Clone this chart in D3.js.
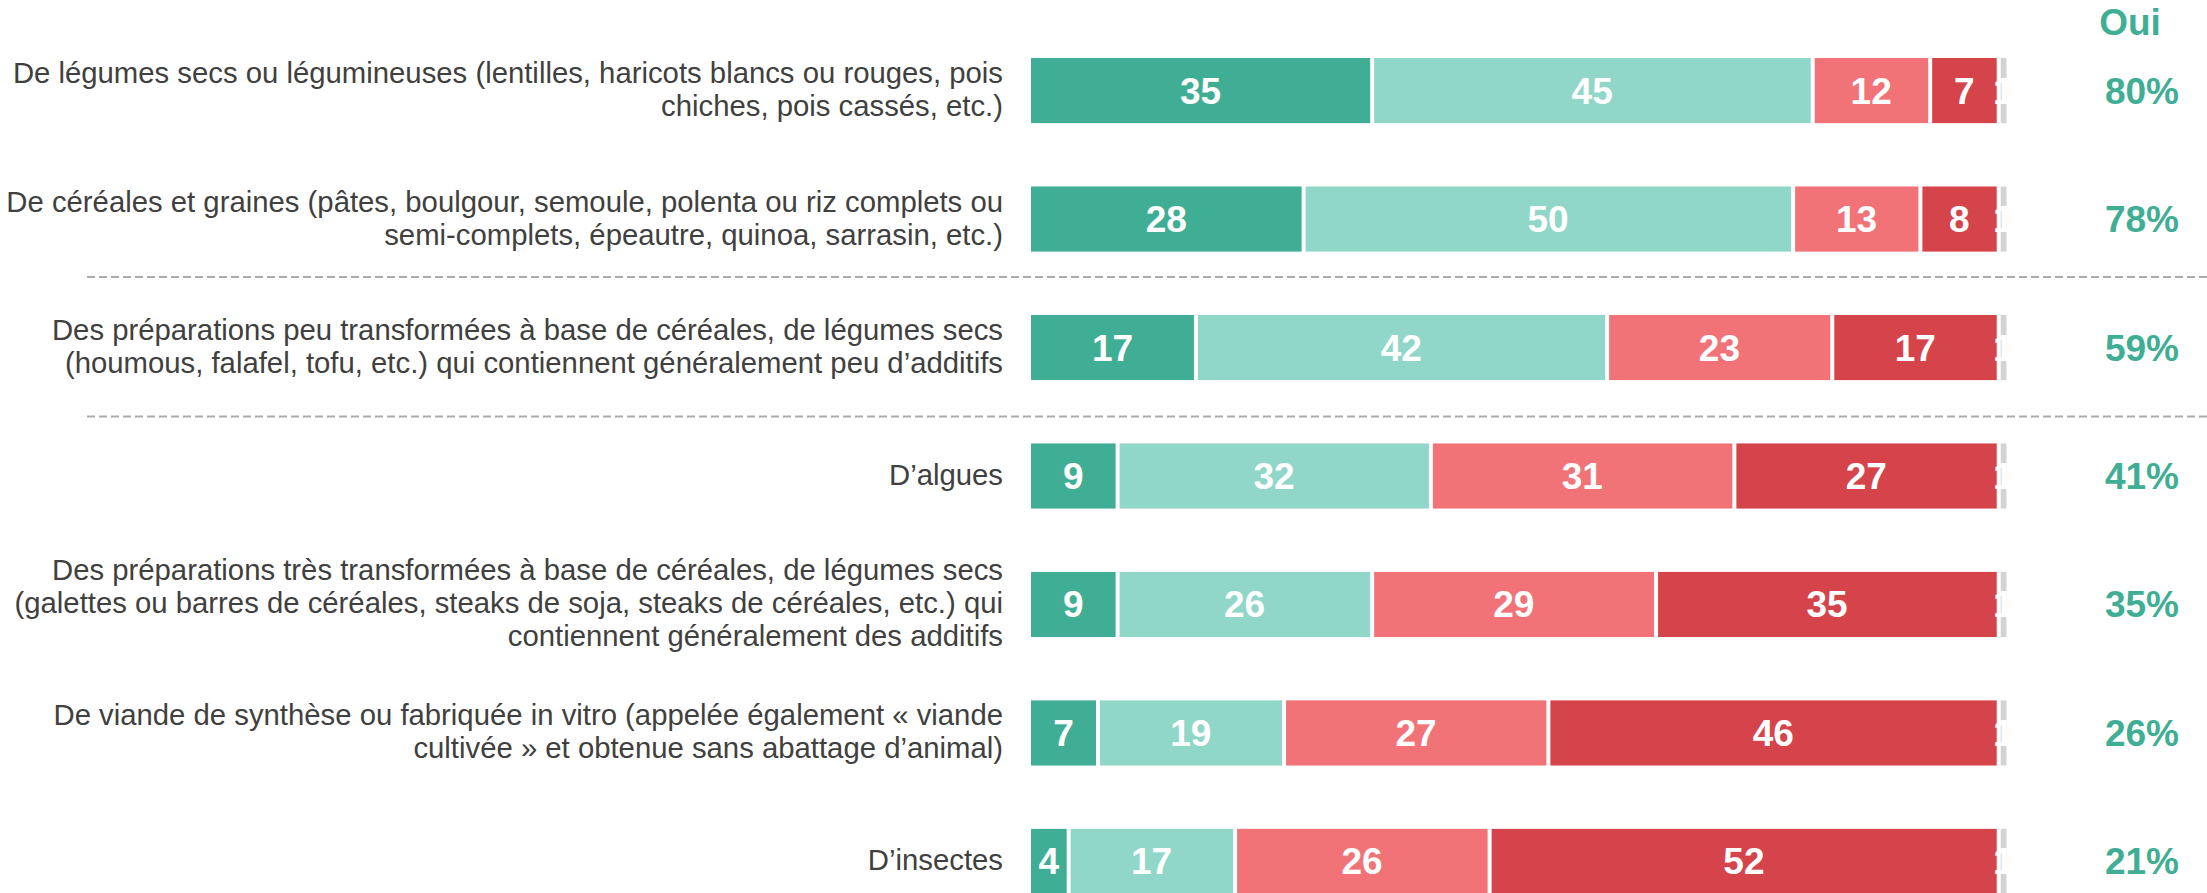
<!DOCTYPE html>
<html>
<head>
<meta charset="utf-8">
<script src="https://cdn.jsdelivr.net/npm/d3@7"></script>
<style>
html,body{margin:0;padding:0;background:#fff;}
svg{display:block;}
text{font-family:'Liberation Sans', Arial, sans-serif;}
</style>
</head>
<body>
<svg id="chart" width="2207" height="893"></svg>
<script>
const categories = [
  ["De légumes secs ou légumineuses (lentilles, haricots blancs ou rouges, pois", "chiches, pois cassés, etc.)"],
  ["De céréales et graines (pâtes, boulgour, semoule, polenta ou riz complets ou", "semi-complets, épeautre, quinoa, sarrasin, etc.)"],
  ["Des préparations peu transformées à base de céréales, de légumes secs", "(houmous, falafel, tofu, etc.) qui contiennent généralement peu d’additifs"],
  ["D’algues"],
  ["Des préparations très transformées à base de céréales, de légumes secs", "(galettes ou barres de céréales, steaks de soja, steaks de céréales, etc.) qui", "contiennent généralement des additifs"],
  ["De viande de synthèse ou fabriquée in vitro (appelée également « viande", "cultivée » et obtenue sans abattage d’animal)"],
  ["D’insectes"]
];
const seriesNames = ["Oui, tout à fait", "Oui, plutôt", "Non, plutôt pas", "Non, pas du tout", "Nsp"];
const ouiToutAFait = [35, 28, 17, 9, 9, 7, 4];
const ouiPlutot   = [45, 50, 42, 32, 26, 19, 17];
const nonPlutotPas = [12, 13, 23, 31, 29, 27, 26];
const nonPasDuTout = [7, 8, 17, 27, 35, 46, 52];
const nsp          = [1, 1, 1, 1, 1, 1, 1];
const ouiTotal     = ["80%", "78%", "59%", "41%", "35%", "26%", "21%"];
const ouiHeader = "Oui";
const colors = ["#3FAE95", "#90D7C9", "#F27377", "#D6444B", "#D3D3D3"];

const svg = d3.select("#chart");
const ids = categories.map((c, i) => i);
const x = d3.scaleLinear().domain([0, 100]).range([1031, 2010]);
const y = d3.scaleBand().domain(ids).range([58, 894]).paddingInner(0.493).paddingOuter(0);
const bw = y.bandwidth();

const series = [ouiToutAFait, ouiPlutot, nonPlutotPas, nonPasDuTout, nsp];
const stackData = ids.map(i => {
  const o = {id: i};
  series.forEach((s, k) => o["s" + k] = s[i]);
  return o;
});
const stack = d3.stack().keys(series.map((s, k) => "s" + k));
const stacked = stack(stackData);

// separator lines
const sepYs = [y(2) - 38, y(3) - 27];
svg.selectAll("line.sep").data(sepYs).enter().append("line")
  .attr("x1", 87).attr("x2", 2207)
  .attr("y1", d => d).attr("y2", d => d)
  .attr("stroke", "#ABABAB").attr("stroke-width", 2)
  .attr("stroke-dasharray", "8,4");

// bars
const layers = svg.selectAll("g.layer").data(stacked).enter().append("g")
  .attr("class", "layer").attr("fill", (d, k) => colors[k]);
layers.selectAll("rect").data(d => d).enter().append("rect")
  .attr("x", d => x(d[0]) + (d[0] > 0 ? 0.5 : 0))
  .attr("y", d => y(d.data.id))
  .attr("width", d => Math.max(0, x(d[1]) - x(d[0]) - (d[0] > 0 ? 0.5 : 0) - 3.5))
  .attr("height", bw);

// values
layers.selectAll("text").data(d => d).enter().append("text")
  .attr("x", d => (x(d[0]) + x(d[1]) - 3.5) / 2)
  .attr("y", d => y(d.data.id) + bw / 2 + 13)
  .attr("text-anchor", "middle")
  .attr("font-weight", "bold")
  .attr("font-size", 37)
  .attr("fill", "#fff")
  .text(d => d[1] - d[0]);

// category labels
const lineH = 33;
const labels = svg.selectAll("text.cat").data(categories).enter().append("text")
  .attr("class", "cat")
  .attr("text-anchor", "end")
  .attr("font-size", 29.3)
  .attr("fill", "#404040");
labels.each(function(lines, i) {
  const cy = y(i) + bw / 2;
  const first = cy - (lines.length - 1) * lineH / 2 + 9;
  d3.select(this).selectAll("tspan").data(lines).enter().append("tspan")
    .attr("x", 1003)
    .attr("y", (d, j) => first + j * lineH)
    .text(d => d);
});

// Oui column
svg.append("text")
  .attr("x", 2130).attr("y", 35)
  .attr("text-anchor", "middle")
  .attr("font-weight", "bold").attr("font-size", 37)
  .attr("fill", "#3FAE95")
  .text(ouiHeader);
svg.selectAll("text.tot").data(ouiTotal).enter().append("text")
  .attr("class", "tot")
  .attr("x", 2142)
  .attr("y", (d, i) => y(i) + bw / 2 + 13)
  .attr("text-anchor", "middle")
  .attr("font-weight", "bold").attr("font-size", 37)
  .attr("fill", "#3FAE95")
  .text(d => d);
</script>
</body>
</html>
